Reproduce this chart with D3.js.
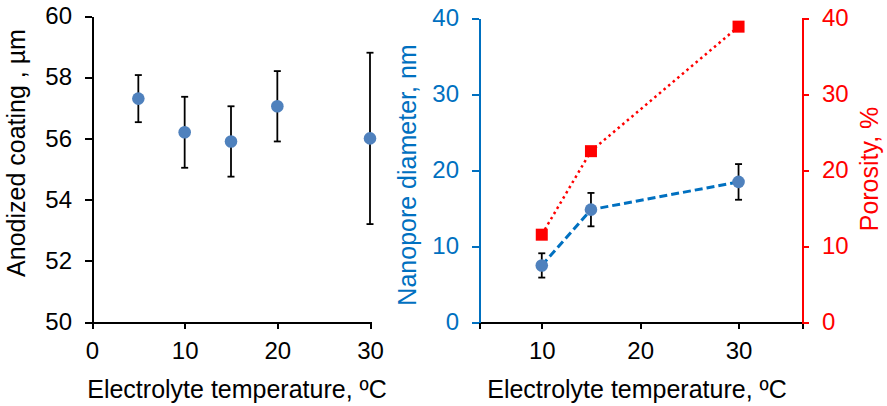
<!DOCTYPE html>
<meta charset="utf-8">
<style>
body { margin: 0; background: #fff; }
svg text { font-family: "Liberation Sans", Arial, sans-serif; }
.axis path, .axis line { shape-rendering: crispEdges; }
</style>
<svg width="887" height="406"></svg>
<script src="https://cdn.jsdelivr.net/npm/d3@7"></script>
<script>
// left panel: anodized coating thickness
var coatTemps = [5, 10, 15, 20, 30];
var coating = [57.3, 56.2, 55.9, 57.05, 56.0];
var coatingErr = [0.77, 1.16, 1.15, 1.15, 2.8];

// right panel: nanopore diameter + porosity
var poreTemps = [10, 15, 30];
var diameter = [7.45, 14.8, 18.45];
var diameterErr = [1.6, 2.2, 2.35];
var porosity = [11.5, 22.5, 38.9];

var leftYTicks = [50, 52, 54, 56, 58, 60];
var leftXTicks = [0, 10, 20, 30];
var rightXTicks = [10, 20, 30];
var rightYTicks = [0, 10, 20, 30, 40];

var blue = "#0070C0", dotBlue = "#4F81BD", red = "#FF0000";
var fs = 24, titleFs = 25;

var svg = d3.select("svg");

function styleAxis(g, color) {
  g.select(".domain").attr("stroke", color).attr("stroke-width", 2);
  g.selectAll(".tick line").attr("stroke", color).attr("stroke-width", 2);
  g.selectAll(".tick text").attr("fill", color).style("font-size", fs + "px")
    .style("font-family", '"Liberation Sans", Arial, sans-serif');
}

// ---------- left panel ----------
var x1 = d3.scaleLinear().domain([0, 30]).range([92, 370]);
var y1 = d3.scaleLinear().domain([50, 60]).range([322, 16]);

svg.append("g").attr("class", "axis")
  .attr("transform", "translate(0,322)")
  .call(d3.axisBottom(x1).tickValues(leftXTicks).tickSize(7).tickSizeOuter(0).tickPadding(13))
  .call(styleAxis, "#000");

svg.append("g").attr("class", "axis")
  .attr("transform", "translate(92,0)")
  .call(d3.axisLeft(y1).tickValues(leftYTicks).tickSize(7).tickSizeOuter(0).tickPadding(13))
  .call(styleAxis, "#000");

var eb1 = svg.append("g");
coatTemps.forEach(function(t, i) {
  var lo = y1(coating[i] - coatingErr[i]), hi = y1(coating[i] + coatingErr[i]);
  eb1.append("line").attr("x1", x1(t)).attr("x2", x1(t)).attr("y1", lo).attr("y2", hi)
    .attr("stroke", "#000").attr("stroke-width", 1.8);
  [lo, hi].forEach(function(yy) {
    eb1.append("line").attr("x1", x1(t) - 3.5).attr("x2", x1(t) + 3.5).attr("y1", yy).attr("y2", yy)
      .attr("stroke", "#000").attr("stroke-width", 1.8);
  });
});

svg.append("g").selectAll("circle")
  .data(coatTemps)
  .enter().append("circle")
  .attr("cx", function(d) { return x1(d); })
  .attr("cy", function(d, i) { return y1(coating[i]); })
  .attr("r", 6.3)
  .attr("fill", dotBlue);

svg.append("text").attr("x", 237).attr("y", 398)
  .attr("text-anchor", "middle").style("font-size", titleFs + "px")
  .text("Electrolyte temperature, ºC");

svg.append("text").attr("transform", "translate(25,153) rotate(-90)")
  .attr("text-anchor", "middle").style("font-size", titleFs + "px")
  .text("Anodized coating , µm");

// ---------- right panel ----------
var x2 = d3.scaleLinear().domain([3.62, 36.45]).range([479, 802]);
var y2 = d3.scaleLinear().domain([0, 40]).range([322, 18.3]);
var y3 = d3.scaleLinear().domain([0, 40]).range([322, 18.3]);

svg.append("g").attr("class", "axis")
  .attr("transform", "translate(0,322)")
  .call(d3.axisBottom(x2).tickValues(rightXTicks).tickSize(7).tickSizeOuter(7).tickPadding(13))
  .call(styleAxis, "#000");

svg.append("g").attr("class", "axis")
  .attr("transform", "translate(479,0)")
  .call(d3.axisLeft(y2).tickValues(rightYTicks).tickSize(7).tickSizeOuter(0).tickPadding(13))
  .call(styleAxis, blue);

svg.append("g").attr("class", "axis")
  .attr("transform", "translate(802,0)")
  .call(d3.axisRight(y3).tickValues(rightYTicks).tickSize(7).tickSizeOuter(0).tickPadding(13))
  .call(styleAxis, red);

// porosity dotted line + squares
var porLine = d3.line()
  .x(function(d) { return x2(d); })
  .y(function(d, i) { return y3(porosity[i]); });

svg.append("path").datum(poreTemps)
  .attr("d", porLine)
  .attr("fill", "none").attr("stroke", red).attr("stroke-width", 2.5)
  .attr("stroke-dasharray", "2.5,3.5");

// diameter dashed line
var diaLine = d3.line()
  .x(function(d) { return x2(d); })
  .y(function(d, i) { return y2(diameter[i]); });

svg.append("path").datum(poreTemps)
  .attr("d", diaLine)
  .attr("fill", "none").attr("stroke", blue).attr("stroke-width", 3)
  .attr("stroke-dasharray", "8,4");

var eb2 = svg.append("g");
poreTemps.forEach(function(t, i) {
  var lo = y2(diameter[i] - diameterErr[i]), hi = y2(diameter[i] + diameterErr[i]);
  eb2.append("line").attr("x1", x2(t)).attr("x2", x2(t)).attr("y1", lo).attr("y2", hi)
    .attr("stroke", "#000").attr("stroke-width", 1.8);
  [lo, hi].forEach(function(yy) {
    eb2.append("line").attr("x1", x2(t) - 3.5).attr("x2", x2(t) + 3.5).attr("y1", yy).attr("y2", yy)
      .attr("stroke", "#000").attr("stroke-width", 1.8);
  });
});

svg.append("g").selectAll("circle")
  .data(poreTemps)
  .enter().append("circle")
  .attr("cx", function(d) { return x2(d); })
  .attr("cy", function(d, i) { return y2(diameter[i]); })
  .attr("r", 6.3)
  .attr("fill", dotBlue);

svg.append("g").selectAll("rect")
  .data(poreTemps)
  .enter().append("rect")
  .attr("x", function(d) { return x2(d) - 6; })
  .attr("y", function(d, i) { return y3(porosity[i]) - 6; })
  .attr("width", 12).attr("height", 12)
  .attr("fill", red);

svg.append("text").attr("x", 637).attr("y", 398)
  .attr("text-anchor", "middle").style("font-size", titleFs + "px")
  .text("Electrolyte temperature, ºC");

svg.append("text").attr("transform", "translate(416,175) rotate(-90)")
  .attr("text-anchor", "middle").style("font-size", titleFs + "px").attr("fill", blue)
  .text("Nanopore diameter, nm");

svg.append("text").attr("transform", "translate(878,169) rotate(-90)")
  .attr("text-anchor", "middle").style("font-size", titleFs + "px").attr("fill", red)
  .text("Porosity, %");
</script>
